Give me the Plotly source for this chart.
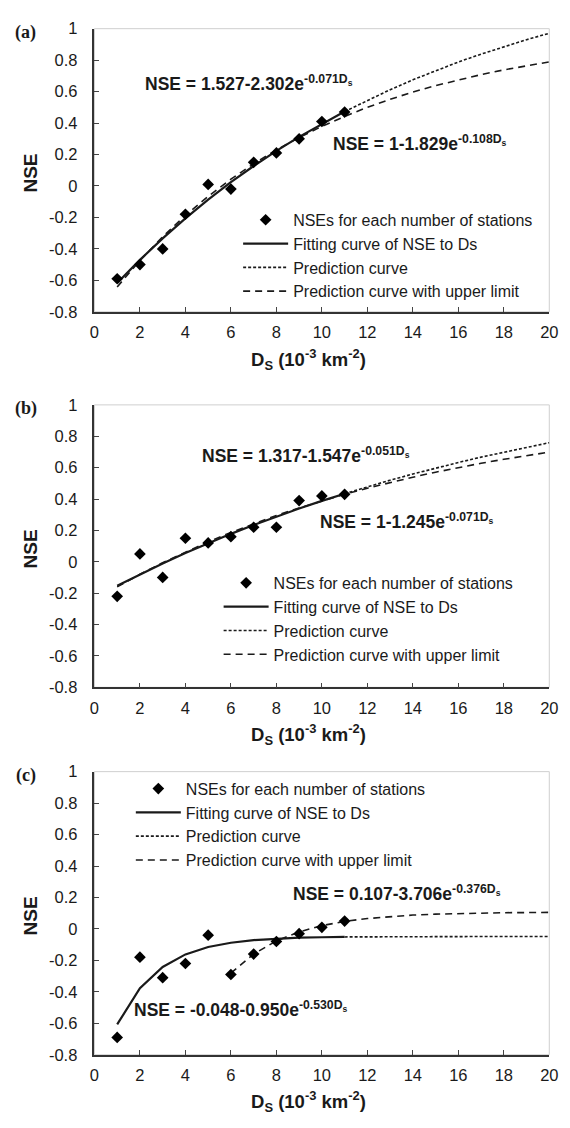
import plotly.graph_objects as go

# ---------------- data ----------------
DS_POINTS = [1, 2, 3, 4, 5, 6, 7, 8, 9, 10, 11]
NSE_A = [-0.59, -0.50, -0.40, -0.18, 0.01, -0.02, 0.15, 0.21, 0.30, 0.41, 0.47]
NSE_B = [-0.22, 0.05, -0.10, 0.15, 0.12, 0.16, 0.22, 0.22, 0.39, 0.42, 0.43]
NSE_C = [-0.69, -0.18, -0.31, -0.22, -0.04, -0.29, -0.16, -0.08, -0.03, 0.01, 0.05]

DS_FIT = [1, 2, 3, 4, 5, 6, 7, 8, 9, 10, 11]
DS_PRED = [11, 12, 13, 14, 15, 16, 17, 18, 19, 20]
DS_ALL = [1, 2, 3, 4, 5, 6, 7, 8, 9, 10, 11, 12, 13, 14, 15, 16, 17, 18, 19, 20]
DS_C_UPPER = [6, 7, 8, 9, 10, 11, 12, 13, 14, 15, 16, 17, 18, 19, 20]

# panel (a)
FIT_A = [-0.617, -0.470, -0.333, -0.206, -0.087, 0.024, 0.127, 0.223, 0.312, 0.395, 0.473]
PRED_A = [0.473, 0.545, 0.612, 0.675, 0.733, 0.788, 0.838, 0.886, 0.930, 0.971]
UPPER_A = [-0.642, -0.474, -0.323, -0.187, -0.066, 0.043, 0.141, 0.229, 0.308, 0.379,
           0.442, 0.500, 0.551, 0.597, 0.638, 0.675, 0.708, 0.738, 0.765, 0.789]
# panel (b)
FIT_B = [-0.153, -0.080, -0.011, 0.056, 0.118, 0.178, 0.234, 0.288, 0.339, 0.388, 0.434]
PRED_B = [0.434, 0.478, 0.520, 0.559, 0.597, 0.633, 0.667, 0.699, 0.730, 0.759]
UPPER_B = [-0.160, -0.080, -0.006, 0.063, 0.127, 0.187, 0.243, 0.295, 0.343, 0.388,
           0.430, 0.469, 0.505, 0.539, 0.571, 0.600, 0.628, 0.653, 0.677, 0.699]
# panel (c)
FIT_C = [-0.607, -0.377, -0.242, -0.162, -0.115, -0.088, -0.071, -0.062, -0.056, -0.053, -0.051]
PRED_C = [-0.051, -0.050, -0.049, -0.048, -0.048, -0.048, -0.048, -0.048, -0.048, -0.048]
UPPER_C = [-0.281, -0.160, -0.076, -0.019, 0.021, 0.048, 0.066, 0.079, 0.088, 0.094,
           0.098, 0.101, 0.103, 0.104, 0.105]

X_TICKS = [0, 2, 4, 6, 8, 10, 12, 14, 16, 18, 20]
X_TICK_LABELS = ["0", "2", "4", "6", "8", "10", "12", "14", "16", "18", "20"]
Y_TICKS = [1, 0.8, 0.6, 0.4, 0.2, 0, -0.2, -0.4, -0.6, -0.8]
Y_TICK_LABELS = ["1", "0.8", "0.6", "0.4", "0.2", "0", "-0.2", "-0.4", "-0.6", "-0.8"]

LEGEND_NAMES = ["NSEs for each number of stations", "Fitting curve of NSE to Ds",
                "Prediction curve", "Prediction curve with upper limit"]
PANEL_LABELS = ["(a)", "(b)", "(c)"]
EQ_TEXT = [
    ["NSE = 1.527-2.302e<sup>-0.071D<sub>s</sub></sup>", "NSE = 1-1.829e<sup>-0.108D<sub>s</sub></sup>"],
    ["NSE = 1.317-1.547e<sup>-0.051D<sub>s</sub></sup>", "NSE = 1-1.245e<sup>-0.071D<sub>s</sub></sup>"],
    ["NSE = 0.107-3.706e<sup>-0.376D<sub>s</sub></sup>", "NSE = -0.048-0.950e<sup>-0.530D<sub>s</sub></sup>"],
]

# ---------------- layout geometry (pixels) ----------------
W, H = 570, 1128
PX_L, PX_R = 91.7, 558.0
PANELS_PX = [(20.0, 307.7), (402.3, 689.3), (775.0, 1062.7)]  # top, bottom
LEGEND_PX = [(239, 197), (219, 566), (129, 775)]  # left, top
EQ_PX = [[(141, 75), (334, 136)], [(200, 453), (321, 520)], [(293, 898), (130, 1016)]]

FONT = "Arial, Liberation Sans, sans-serif"
INK = "#1a1a1a"


def px_x(p):
    return p / W


def px_y(p):
    return 1 - p / H


fig = go.Figure()

panels = [
    (NSE_A, FIT_A, PRED_A, DS_PRED, UPPER_A, DS_ALL),
    (NSE_B, FIT_B, PRED_B, DS_PRED, UPPER_B, DS_ALL),
    (NSE_C, FIT_C, PRED_C, DS_PRED, UPPER_C, DS_C_UPPER),
]

layout_axes = {}
annotations = []
shapes = []
for i, (pts, fit, pred, dsp, upper, dsu) in enumerate(panels):
    n = i + 1
    xa = "x" if n == 1 else f"x{n}"
    ya = "y" if n == 1 else f"y{n}"
    leg = "legend" if n == 1 else f"legend{n}"
    fig.add_trace(go.Scatter(x=dsu, y=upper, mode="lines", name=LEGEND_NAMES[3],
                             line=dict(color=INK, width=1.6, dash="7px,5px"),
                             xaxis=xa, yaxis=ya, legend=leg, legendrank=4))
    fig.add_trace(go.Scatter(x=dsp, y=pred, mode="lines", name=LEGEND_NAMES[2],
                             line=dict(color=INK, width=1.6, dash="3px,2px"),
                             xaxis=xa, yaxis=ya, legend=leg, legendrank=3))
    fig.add_trace(go.Scatter(x=DS_FIT, y=fit, mode="lines", name=LEGEND_NAMES[1],
                             line=dict(color=INK, width=2.2),
                             xaxis=xa, yaxis=ya, legend=leg, legendrank=2))
    fig.add_trace(go.Scatter(x=DS_POINTS, y=pts, mode="markers", name=LEGEND_NAMES[0],
                             marker=dict(symbol="diamond", size=9, color="#000000"),
                             xaxis=xa, yaxis=ya, legend=leg, legendrank=1))

    top, bot = PANELS_PX[i]
    xkey = "xaxis" if n == 1 else f"xaxis{n}"
    ykey = "yaxis" if n == 1 else f"yaxis{n}"
    layout_axes[xkey] = dict(
        domain=[px_x(PX_L), px_x(PX_R)], range=[0, 20], anchor=ya,
        tickmode="array", tickvals=X_TICKS, ticktext=X_TICK_LABELS,
        ticks="inside", ticklen=5, tickwidth=1, tickcolor="#444",
        showline=True, linecolor="#333", linewidth=1.5,
        showgrid=False, zeroline=False, ticklabelstandoff=5,
        tickfont=dict(family=FONT, size=16.5, color=INK),
    )
    layout_axes[ykey] = dict(
        domain=[px_y(bot), px_y(top)], range=[-0.8, 1], anchor=xa,
        tickmode="array", tickvals=Y_TICKS, ticktext=Y_TICK_LABELS,
        ticks="inside", ticklen=5, tickwidth=1, tickcolor="#444",
        showline=True, linecolor="#333", linewidth=1.5,
        showgrid=False, zeroline=False, ticklabelstandoff=12,
        tickfont=dict(family=FONT, size=16.5, color=INK),
    )
    # light plot-area border
    shapes.append(dict(type="rect", xref=f"{xa} domain", yref=f"{ya} domain",
                       x0=0, x1=1, y0=0, y1=1, line=dict(color="#cfcfcf", width=1),
                       layer="below"))
    # legend
    lx, ly = LEGEND_PX[i]
    fig.update_layout({leg: dict(x=px_x(lx), y=px_y(ly), xanchor="left", yanchor="top",
                                 xref="paper", yref="paper", bgcolor="rgba(0,0,0,0)",
                                 itemwidth=45, tracegroupgap=0,
                                 font=dict(family=FONT, size=16, color=INK),
                                 traceorder="normal")})
    # panel label
    annotations.append(dict(text=PANEL_LABELS[i], xref="paper", yref="paper",
                            x=px_x(21.5), y=px_y(top + 4), xanchor="center", yanchor="middle",
                            showarrow=False,
                            font=dict(family="Liberation Serif, Times New Roman, serif",
                                      size=18, color=INK, weight="bold")))
    # axis titles
    annotations.append(dict(text="NSE", xref="paper", yref="paper",
                            x=px_x(26), y=px_y((top + bot) / 2 + 3), textangle=-90,
                            xanchor="center", yanchor="middle", showarrow=False,
                            font=dict(family=FONT, size=19, color=INK, weight="bold")))
    annotations.append(dict(text="D<sub>S</sub> (10<sup>-3</sup> km<sup>-2</sup>)",
                            xref="paper", yref="paper",
                            x=px_x(311), y=px_y(bot + 48), xanchor="center", yanchor="middle",
                            showarrow=False,
                            font=dict(family=FONT, size=18.5, color=INK, weight="bold")))
    # equations
    for j in range(2):
        ex, ey = EQ_PX[i][j]
        annotations.append(dict(text=EQ_TEXT[i][j], xref="paper", yref="paper",
                                x=px_x(ex), y=px_y(ey), xanchor="left", yanchor="middle",
                                showarrow=False,
                                font=dict(family=FONT, size=17.5, color=INK, weight="bold")))

fig.update_layout(
    width=W, height=H,
    margin=dict(l=0, r=0, t=0, b=0),
    paper_bgcolor="white", plot_bgcolor="white",
    annotations=annotations, shapes=shapes,
    **layout_axes,
)

fig.write_html("out.html", config={"displayModeBar": False},
               post_script="document.body.style.margin='0px';document.body.style.overflow='hidden';")
